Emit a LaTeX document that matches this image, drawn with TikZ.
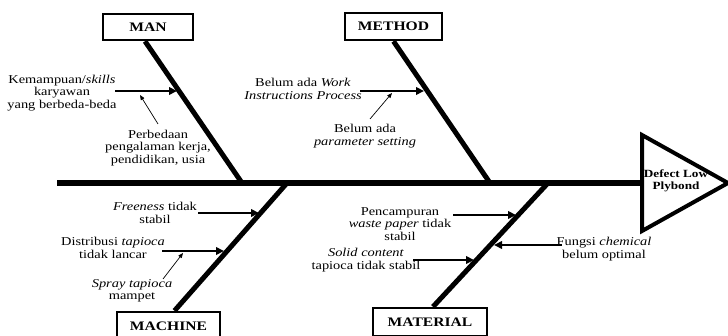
\documentclass[tikz,border=0pt]{standalone}
\usepackage{fontspec}
\setmainfont[FakeStretch=1.2]{Liberation Serif}
\usetikzlibrary{arrows.meta}
\begin{document}
\begin{tikzpicture}[x=1pt,y=-1pt,
  catbox/.style={draw, line width=2.5pt, font=\fontsize{13}{14}\selectfont\bfseries, inner sep=0pt},
  bone/.style={line width=5pt},
  spine/.style={line width=5.5pt},
  cause/.style={line width=2.6pt, -{Triangle[length=8pt,width=7.5pt]}},
  sub/.style={line width=0.7pt, -{Triangle[length=5pt,width=4pt]}},
  lbl/.style={align=center, inner sep=0pt, font=\fontsize{12}{12.5}\selectfont}
]
\useasboundingbox (0,0) rectangle (728,336);

% head
\draw[line width=4pt, line join=miter] (642,135) -- (728,183) -- (642,231) -- cycle;
\node[font=\fontsize{11}{12.5}\selectfont\bfseries, align=center, inner sep=0pt] (effect) at (676,181) {Defect Low\\Plybond};
\coordinate (head) at (642,183);
\coordinate (tail) at (57,183);
\draw[spine] (tail) -- (head);

% category boxes
\node[catbox, minimum width=90, minimum height=26] (man) at (148,27) {MAN};
\node[catbox, minimum width=97, minimum height=27] (method) at (393.5,26.5) {METHOD};
\node[catbox, minimum width=103, minimum height=28] (machine) at (168.5,326) {MACHINE};
\node[catbox, minimum width=114, minimum height=28] (material) at (430,322) {MATERIAL};

% junctions on spine
\coordinate (jman) at (242,183);
\coordinate (jmeth) at (490,183);
\coordinate (jmach) at (287,183);
\coordinate (jmat) at (548,183);

\draw[bone] ([xshift=-3]man.south) -- (jman);
\draw[bone] (method.south) -- (jmeth);
\draw[bone] ([xshift=6]machine.north) -- (jmach);
\draw[bone] ([xshift=3]material.north) -- (jmat);

% MAN causes
\node[lbl] (k1) at (62,93) {Kemampuan/\textit{skills}\\karyawan\\yang berbeda-beda};
\coordinate (k1s) at (115,91);
\coordinate (k1e) at (177,91);
\draw[cause] (k1s) -- (k1e);
\node[lbl] (k2) at (158,148) {Perbedaan\\pengalaman kerja,\\pendidikan, usia};
\coordinate (k2s) at (158,124);
\coordinate (k2e) at (140,95);
\draw[sub] (k2s) -- (k2e);

% METHOD causes
\node[lbl] (m1) at (303,89) {Belum ada \textit{Work}\\\textit{Instructions Process}};
\coordinate (m1s) at (360,91);
\coordinate (m1e) at (424,91);
\draw[cause] (m1s) -- (m1e);
\node[lbl] (m2) at (365,136) {Belum ada\\\textit{parameter setting}};
\coordinate (m2s) at (370,119);
\coordinate (m2e) at (392,93);
\draw[sub] (m2s) -- (m2e);

% MACHINE causes
\node[lbl] (c1) at (155,213) {\textit{Freeness} tidak\\stabil};
\coordinate (c1s) at (198,213);
\coordinate (c1e) at (259,213);
\draw[cause] (c1s) -- (c1e);
\node[lbl] (c2) at (113,248) {Distribusi \textit{tapioca}\\tidak lancar};
\coordinate (c2s) at (162,251);
\coordinate (c2e) at (224,251);
\draw[cause] (c2s) -- (c2e);
\node[lbl] (c3) at (132,291) {\textit{Spray tapioca}\\mampet};
\coordinate (c3s) at (163,279);
\coordinate (c3e) at (183,253);
\draw[sub] (c3s) -- (c3e);

% MATERIAL causes
\node[lbl] (t1) at (400,224) {Pencampuran\\\textit{waste paper} tidak\\stabil};
\coordinate (t1s) at (453,215);
\coordinate (t1e) at (516,215);
\draw[cause] (t1s) -- (t1e);
\node[lbl] (t2) at (366,260) {\textit{Solid content}\\tapioca tidak stabil};
\coordinate (t2s) at (413,260);
\coordinate (t2e) at (474,260);
\draw[cause] (t2s) -- (t2e);
\node[lbl] (t3) at (604,249) {Fungsi \textit{chemical}\\belum optimal};
\coordinate (t3s) at (562,245);
\coordinate (t3e) at (494,245);
\draw[cause] (t3s) -- (t3e);
\end{tikzpicture}
\end{document}
